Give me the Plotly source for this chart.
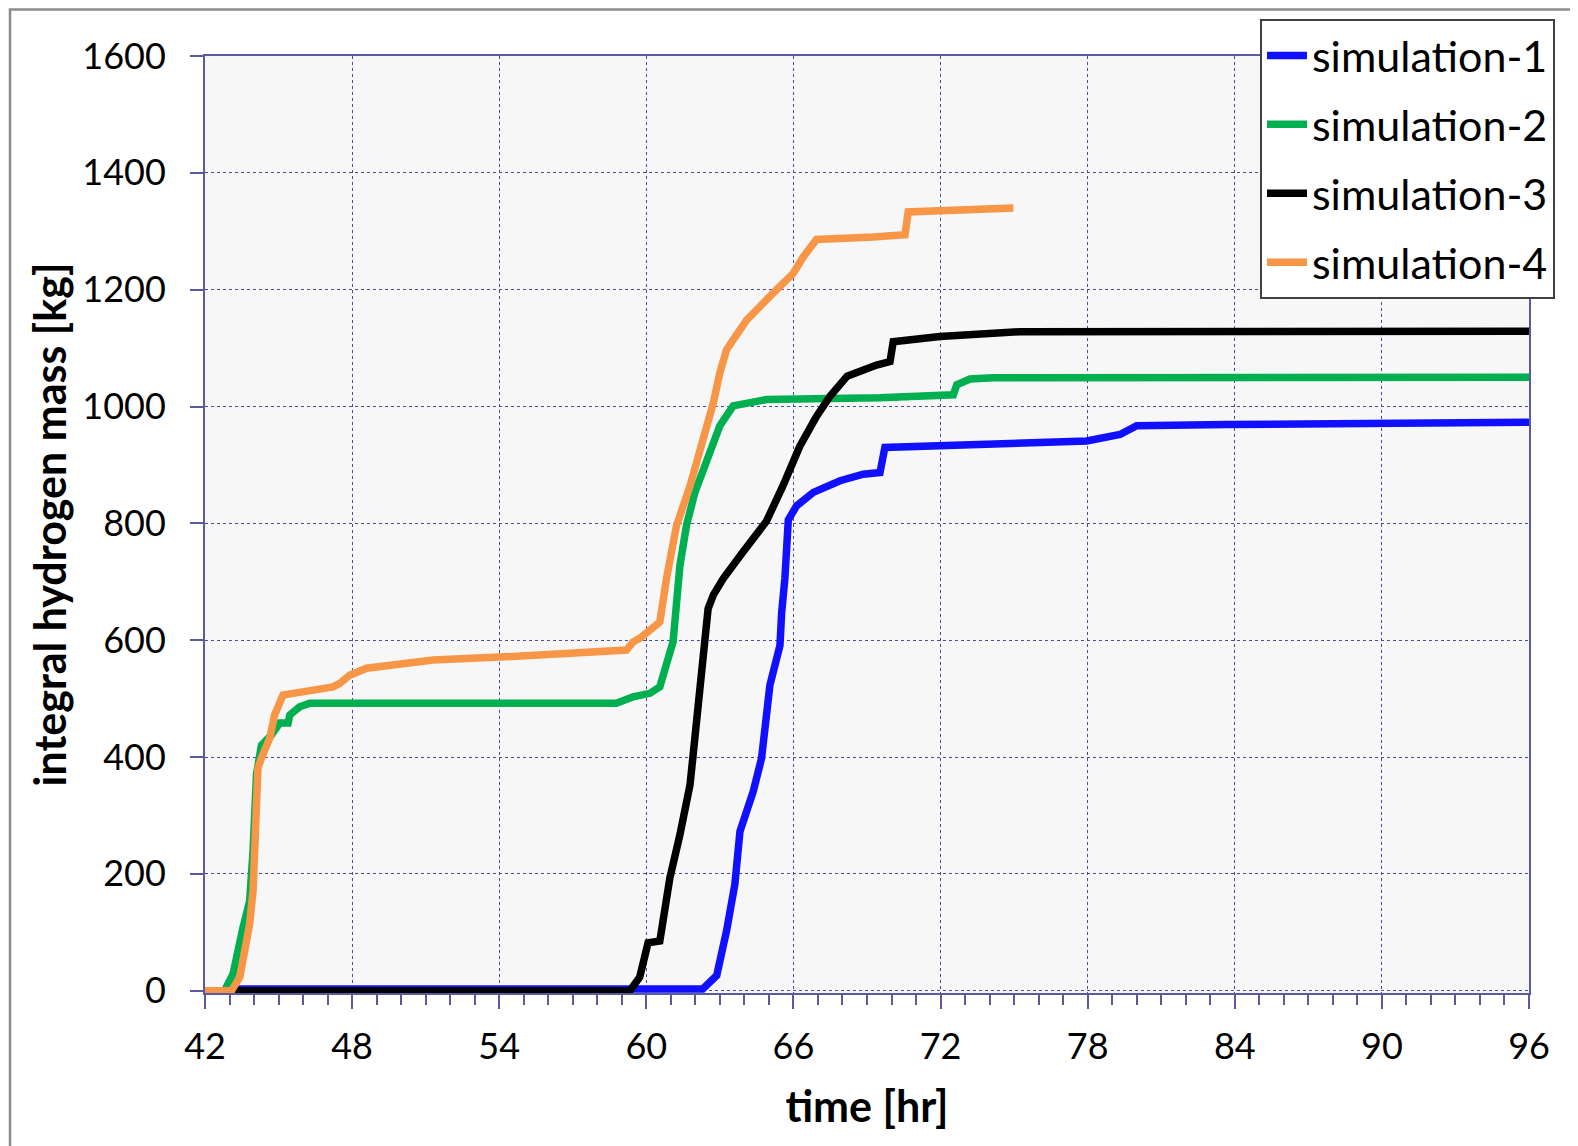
import plotly.graph_objects as go

# ---- data (time [hr], integral hydrogen mass [kg]) ----
sim1_t = [43.3, 62.3, 62.87, 63.27, 63.61, 63.82, 64.36, 64.70, 65.04, 65.45, 65.52, 65.65,
          65.79, 66.13, 66.81, 67.9, 68.85, 69.53, 69.73, 71.97, 74.82, 77.96, 79.32, 80.0,
          83.67, 87.07, 91.85, 91.9, 96.0]
sim1_m = [3, 3, 26, 102, 182, 273, 341, 398, 523, 591, 648, 705,
          806, 830, 853, 873, 884, 887, 930, 933, 938, 941, 952, 967,
          969, 970, 970, 972, 973]

sim2_t = [42.0, 42.8, 42.87, 43.14, 43.55, 43.82, 43.96, 44.1, 44.3, 44.71, 45.05, 45.39,
          45.46, 45.86, 46.27, 58.78, 59.46, 60.14, 60.55, 61.09, 61.37, 61.64, 61.98, 62.46,
          63.0, 63.54, 64.9, 69.52, 72.0, 72.52, 72.66, 72.9, 73.2, 74.15, 96.0]
sim2_m = [0, 0, 6, 28, 108, 153, 239, 370, 420, 438, 458, 458,
          472, 486, 492, 492, 503, 509, 520, 597, 728, 797, 853, 910,
          967, 1001, 1012, 1015, 1018, 1020, 1037, 1043, 1047, 1049, 1050]

sim3_t = [43.2, 59.33, 59.73, 60.07, 60.55, 60.96, 61.37, 61.78, 61.91, 62.12, 62.32, 62.52,
          62.73, 63.13, 63.94, 64.89, 65.57, 66.26, 66.94, 67.5, 68.19, 69.0, 69.39, 69.94,
          70.07, 71.97, 75.24, 96.0]
sim3_m = [0, 0, 23, 82, 85, 193, 267, 352, 404, 495, 591, 654,
          677, 705, 751, 803, 864, 932, 983, 1018, 1052, 1066, 1071, 1077,
          1111, 1120, 1128, 1129]

sim4_t = [42.0, 43.08, 43.42, 43.82, 43.96, 44.1, 44.16, 44.3, 44.64, 44.84, 45.18, 45.59,
          47.22, 47.5, 47.9, 48.59, 51.3, 54.02, 58.78, 59.19, 59.46, 59.73, 60.14, 60.55,
          60.82, 61.23, 61.78, 62.32, 62.73, 63.0, 63.27, 63.54, 63.82, 64.09, 65.17, 65.99,
          66.4, 66.94, 69.26, 70.55, 70.68, 71.97, 74.42, 74.97]
sim4_m = [0, 0, 23, 114, 171, 296, 381, 398, 432, 472, 506, 509,
          520, 526, 540, 552, 566, 571, 580, 583, 597, 603, 617, 631,
          705, 796, 864, 944, 1006, 1058, 1097, 1114, 1131, 1148, 1194, 1228,
          1256, 1286, 1290, 1294, 1333, 1336, 1339, 1340]

series_names = ["simulation-1", "simulation-2", "simulation-3", "simulation-4"]
series_colors = ["#1010ff", "#00b050", "#000000", "#f79646"]

x_ticks = [42, 48, 54, 60, 66, 72, 78, 84, 90, 96]
y_ticks = [0, 200, 400, 600, 800, 1000, 1200, 1400, 1600]

FONT = "Lato, 'Open Sans', sans-serif"
AXIS_COLOR = "#5a5a9c"
GRID_COLOR = "#4a4aa6"

fig = go.Figure()
for t, m, name, col in zip([sim1_t, sim2_t, sim3_t, sim4_t],
                           [sim1_m, sim2_m, sim3_m, sim4_m],
                           series_names, series_colors):
    fig.add_trace(go.Scatter(x=t, y=m, mode="lines", name=name, legendgroup=name,
                             line=dict(color=col, width=7.5)))

# page has an 8px body margin, so the figure is 8px smaller and shifted
W, H = 1570, 1138
L, R, T, B = 197, 49, 47, 153
pw, ph = W - L - R, H - T - B

fig.update_layout(
    width=W, height=H,
    margin=dict(l=L, r=R, t=T, b=B, pad=0),
    paper_bgcolor="white",
    plot_bgcolor="#f7f7f7",
    font=dict(family=FONT, size=36, color="black"),
    showlegend=True,
    legend=dict(
        x=(1252 - L) / pw, y=(T + ph - 11) / ph, xanchor="left", yanchor="top",
        bgcolor="white", bordercolor="#404040", borderwidth=2,
        font=dict(family=FONT, size=43, color="black"),
        tracegroupgap=10, itemwidth=40,
    ),
    xaxis=dict(
        range=[42, 96], tickmode="array", tickvals=x_ticks,
        ticks="outside", ticklen=14, tickwidth=2, tickcolor=AXIS_COLOR,
        ticklabelstandoff=7,
        showline=True, linecolor=AXIS_COLOR, linewidth=2, mirror=True,
        showgrid=True, gridcolor=GRID_COLOR, griddash="dot", gridwidth=1,
        zeroline=False,
        minor=dict(dtick=1, tick0=42, ticks="outside", ticklen=10, tickwidth=2,
                   tickcolor=AXIS_COLOR, showgrid=False),
        title=dict(text="<b>time [hr]</b>", font=dict(size=43), standoff=26),
    ),
    yaxis=dict(
        range=[-4, 1600], tickmode="array", tickvals=y_ticks,
        ticks="outside", ticklen=13, tickwidth=2, tickcolor=AXIS_COLOR,
        ticklabelstandoff=17,
        showline=True, linecolor=AXIS_COLOR, linewidth=2, mirror=True,
        showgrid=True, gridcolor=GRID_COLOR, griddash="dot", gridwidth=1,
        zeroline=False,
        title=dict(text="<b>integral hydrogen mass [kg]</b>", font=dict(size=43), standoff=2),
    ),
)

# outer frame of the original figure (left and top edges visible)
fig.add_shape(type="rect", xref="paper", yref="paper",
              x0=(2 - L) / pw, x1=(W + 20 - L) / pw,
              y0=(H - B - (H + 20)) / ph, y1=(H - B - 0.5) / ph,
              line=dict(color="#8c8c8c", width=2.5), fillcolor="rgba(0,0,0,0)", layer="below")

fig.write_html("out.html")
